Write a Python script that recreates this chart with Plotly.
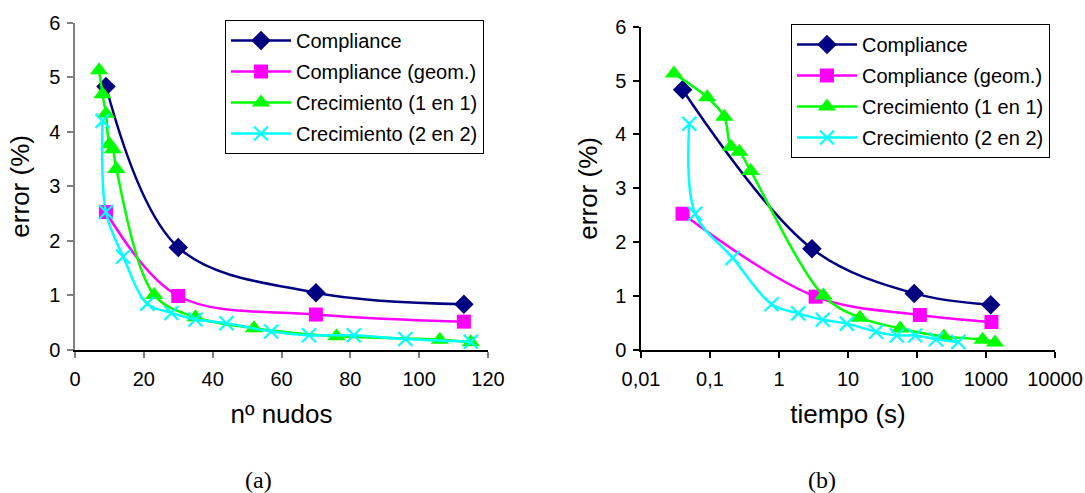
import plotly.graph_objects as go

# ---- data ----
names = ["Compliance", "Compliance (geom.)", "Crecimiento (1 en 1)", "Crecimiento (2 en 2)"]

# (a) error vs number of nodes
comp_nodes = [9, 30, 70, 113]
comp_err = [4.83, 1.88, 1.05, 0.84]
geom_nodes = [9, 30, 70, 113]
geom_err = [2.53, 0.99, 0.65, 0.52]
c11_nodes = [7, 8, 9, 10, 11, 12, 23, 35, 52, 76, 106, 115]
c11_err = [5.13, 4.69, 4.33, 3.77, 3.68, 3.32, 1.01, 0.60, 0.40, 0.25, 0.19, 0.14]
c22_nodes = [8, 9, 14, 21, 28, 35, 44, 57, 68, 81, 96, 115]
c22_err = [4.20, 2.53, 1.71, 0.85, 0.68, 0.56, 0.49, 0.34, 0.27, 0.27, 0.20, 0.15]

# (b) error vs time (s)
comp_time = [0.040, 3.0, 91, 1170]
geom_time = [0.040, 3.4, 110, 1200]
c11_time = [0.030, 0.091, 0.161, 0.201, 0.266, 0.389, 4.4, 14.9, 57, 246, 895, 1350]
c22_time = [0.050, 0.061, 0.213, 0.78, 1.9, 4.3, 9.6, 25.5, 51, 94, 188, 397]

x_ticks_a = [0, 20, 40, 60, 80, 100, 120]
x_ticks_b = [0.01, 0.1, 1, 10, 100, 1000, 10000]
x_ticklabels_b = ["0,01", "0,1", "1", "10", "100", "1000", "10000"]
y_ticks = [0, 1, 2, 3, 4, 5, 6]

# ---- styles ----
colors = ["#000080", "#FF00FF", "#00FF00", "#00FFFF"]
symbols = ["diamond", "square", "triangle-up", "x-thin"]
sizes = [15, 14, 16, 14]

FONT = "Liberation Sans, Arial, sans-serif"
SERIF = "Liberation Serif, Times New Roman, serif"

fig = go.Figure()

series_a = [(comp_nodes, comp_err), (geom_nodes, geom_err), (c11_nodes, c11_err), (c22_nodes, c22_err)]
series_b = [(comp_time, comp_err), (geom_time, geom_err), (c11_time, c11_err), (c22_time, c22_err)]


def marker(i):
    if symbols[i] == "x-thin":
        return dict(symbol="x-thin", size=sizes[i], color=colors[i],
                    line=dict(color=colors[i], width=2.2))
    return dict(symbol=symbols[i], size=sizes[i], color=colors[i],
                line=dict(width=0))


for i, (xs, ys) in enumerate(series_a):
    fig.add_trace(go.Scatter(
        x=xs, y=ys, name=names[i], mode="lines+markers",
        line=dict(color=colors[i], width=2.5, shape="spline", smoothing=1),
        marker=marker(i), xaxis="x", yaxis="y", legend="legend",
        legendgroup="a%d" % i,
    ))

for i, (xs, ys) in enumerate(series_b):
    fig.add_trace(go.Scatter(
        x=xs, y=ys, name=names[i], mode="lines+markers",
        line=dict(color=colors[i], width=2.5, shape="spline", smoothing=1),
        marker=marker(i), xaxis="x2", yaxis="y2", legend="legend2",
        legendgroup="b%d" % i,
    ))

W, H = 1085, 493

tickfont = dict(family=FONT, size=20, color="black")
titlefont = dict(family=FONT, size=26, color="black")

common_axis = dict(
    showgrid=False, zeroline=False, showline=True, linewidth=1.5,
    ticks="outside", ticklen=6, tickwidth=1.5, tickfont=tickfont,
    mirror=False, automargin=False,
)

legend_common = dict(
    font=dict(family=FONT, size=20, color="black"),
    bgcolor="white", bordercolor="black", borderwidth=1,
    xanchor="left", yanchor="top", itemwidth=60,
    tracegroupgap=2, traceorder="grouped",
)

fig.update_layout(
    width=W, height=H,
    margin=dict(l=0, r=0, t=0, b=0, autoexpand=False),
    paper_bgcolor="white", plot_bgcolor="white",
    showlegend=True,
    xaxis=dict(
        domain=[75 / W, 488 / W], range=[0, 120], tickvals=x_ticks_a,
        linecolor="black", tickcolor="#808080", anchor="y",
        ticklabelstandoff=4,
        title=dict(text="nº nudos", font=titlefont, standoff=16),
        **common_axis,
    ),
    yaxis=dict(
        domain=[1 - 350 / H, 1 - 22.7 / H], range=[0, 6], tickvals=y_ticks,
        linecolor="#808080", tickcolor="#808080", anchor="x",
        ticklabelstandoff=3,
        title=dict(text="error (%)", font=titlefont, standoff=12),
        **common_axis,
    ),
    xaxis2=dict(
        domain=[641 / W, 1055 / W], type="log", range=[-2, 4],
        tickvals=x_ticks_b, ticktext=x_ticklabels_b,
        linecolor="black", tickcolor="black", anchor="y2",
        ticklabelstandoff=4,
        title=dict(text="tiempo (s)", font=titlefont, standoff=16),
        **common_axis,
    ),
    yaxis2=dict(
        domain=[1 - 350 / H, 1 - 26.7 / H], range=[0, 6], tickvals=y_ticks,
        linecolor="black", tickcolor="black", anchor="x2",
        ticklabelstandoff=3,
        title=dict(text="error (%)", font=titlefont, standoff=10),
        **common_axis,
    ),
    legend=dict(x=225 / W, y=1 - 20 / H, **legend_common),
    legend2=dict(x=791 / W, y=1 - 24 / H, **legend_common),
    annotations=[
        dict(text="(a)", x=258 / W, y=1 - 480 / H, xref="paper", yref="paper",
             xanchor="center", yanchor="middle",
             showarrow=False, font=dict(family=SERIF, size=24, color="black")),
        dict(text="(b)", x=822 / W, y=1 - 480 / H, xref="paper", yref="paper",
             xanchor="center", yanchor="middle",
             showarrow=False, font=dict(family=SERIF, size=24, color="black")),
    ],
)

fig.write_html("out.html", config={"displayModeBar": False},
               post_script="document.body.style.margin='0px';")
